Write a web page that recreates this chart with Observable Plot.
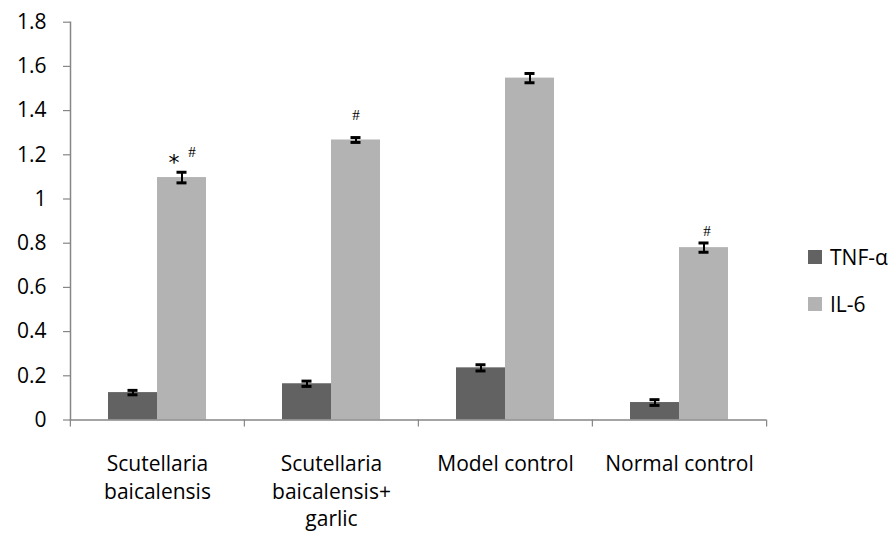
<!DOCTYPE html>
<html>
<head>
<meta charset="utf-8">
<script src="https://cdn.jsdelivr.net/npm/d3@7"></script>
<script src="https://cdn.jsdelivr.net/npm/@observablehq/plot@0.6"></script>
<style>
  body { margin: 0; background: #fff; }
  #wrap { position: relative; width: 896px; height: 538px; font-family: "Open Sans", Lato, sans-serif; }
  #legend { position: absolute; left: 808px; top: 242px; font-size: 21px; color: #000; }
  #legend .item { display: flex; align-items: center; height: 30px; margin-bottom: 17px; }
  #legend .sw { width: 14px; height: 14px; margin-right: 8px; }
</style>
</head>
<body>
<div id="wrap"><div id="legend"></div></div>
<script>
const groups = ["Scutellaria baicalensis", "Scutellaria baicalensis+ garlic", "Model control", "Normal control"];
const groupLabels = ["Scutellaria\nbaicalensis", "Scutellaria\nbaicalensis+\ngarlic", "Model control", "Normal control"];
const series = ["TNF-α", "IL-6"];
const seriesColors = ["#626262", "#b3b3b3"];
const tnf = [0.124, 0.164, 0.236, 0.079];
const tnfErr = [0.010, 0.012, 0.014, 0.013];
const il6 = [1.097, 1.267, 1.547, 0.780];
const il6Err = [0.024, 0.011, 0.021, 0.021];
const yTicks = [0, 0.2, 0.4, 0.6, 0.8, 1, 1.2, 1.4, 1.6, 1.8];
// significance marks on IL-6 bars
const starGroups = ["Scutellaria baicalensis"];
const hashGroupsA = ["Scutellaria baicalensis"];
const hashGroupsB = ["Scutellaria baicalensis+ garlic"];
const hashGroupsC = ["Normal control"];

const rows = [];
groups.forEach((g, i) => {
  rows.push({group: g, series: series[0], value: tnf[i], err: tnfErr[i]});
  rows.push({group: g, series: series[1], value: il6[i], err: il6Err[i]});
});
const labelRows = groups.map((g, i) => ({group: g, label: groupLabels[i]}));
const il6Rows = rows.filter(d => d.series === series[1]);
const pick = gs => il6Rows.filter(d => gs.includes(d.group));

const axisGray = "#868686";
const font = "'Open Sans', Lato, sans-serif";
const hashFont = "'Liberation Serif', serif";
const chart = Plot.plot({
  width: 896,
  height: 538,
  marginLeft: 69,
  marginRight: 130,
  marginTop: 21.7,
  marginBottom: 118.5,
  style: {fontFamily: font, fontSize: "21px", color: "#000", background: "#fff"},
  fx: {domain: groups, padding: 0, axis: null, label: null},
  x: {domain: series, paddingInner: 0, paddingOuter: 0.7425, axis: null, label: null},
  y: {domain: [0, 1.8], axis: null, label: null},
  color: {domain: series, range: seriesColors},
  marks: [
    Plot.barY(rows, {fx: "group", x: "series", y: "value", fill: "series"}),
    Plot.ruleX(rows, {fx: "group", x: "series", y1: d => d.value - d.err, y2: d => d.value + d.err, stroke: "#000", strokeWidth: 2}),
    Plot.tickY(rows, {fx: "group", x: "series", y: d => d.value - d.err, stroke: "#000", strokeWidth: 3, insetLeft: 19.5, insetRight: 19.5}),
    Plot.tickY(rows, {fx: "group", x: "series", y: d => d.value + d.err, stroke: "#000", strokeWidth: 3, insetLeft: 19.5, insetRight: 19.5}),
    Plot.ruleY([0], {stroke: axisGray, strokeWidth: 1.5}),
    Plot.frame({anchor: "left", facetAnchor: "left", stroke: axisGray, strokeWidth: 1.5}),
    Plot.axisY({ticks: yTicks, tickFormat: d => String(d), tickSize: 7, tickPadding: 17, label: null, stroke: axisGray, fill: "#000", fontSize: 21, strokeWidth: 1.2}),
    Plot.axisFx({text: null, label: null, tickSize: 7, dx: -87.125, anchor: "bottom", stroke: axisGray, strokeWidth: 1.2}),
    Plot.axisFx({ticks: [groups[groups.length - 1]], text: null, label: null, tickSize: 7, dx: 87.125, anchor: "bottom", stroke: axisGray, strokeWidth: 1.2}),
    Plot.text(labelRows, {fx: "group", text: "label", frameAnchor: "bottom", lineAnchor: "top", dy: 32, lineHeight: 1.3, fontSize: 21, fill: "#000"}),
    Plot.text(pick(starGroups), {fx: "group", x: "series", y: "value", text: () => "*", dy: -15, dx: -8, fontFamily: "'DejaVu Sans', sans-serif", fontSize: 22, fill: "#000"}),
    Plot.text(pick(hashGroupsA), {fx: "group", x: "series", y: "value", text: () => "#", dy: -25, dx: 10, fontFamily: hashFont, fontSize: 15, fill: "#000"}),
    Plot.text(pick(hashGroupsB), {fx: "group", x: "series", y: "value", text: () => "#", dy: -25, dx: 0, fontFamily: hashFont, fontSize: 15, fill: "#000"}),
    Plot.text(pick(hashGroupsC), {fx: "group", x: "series", y: "value", text: () => "#", dy: -16, dx: 3, fontFamily: hashFont, fontSize: 15, fill: "#000"})
  ]
});
document.getElementById("wrap").prepend(chart);

const legend = document.getElementById("legend");
series.forEach((s, i) => {
  const item = document.createElement("div");
  item.className = "item";
  const sw = document.createElement("div");
  sw.className = "sw";
  sw.style.background = seriesColors[i];
  const t = document.createElement("span");
  t.textContent = s;
  item.append(sw, t);
  legend.append(item);
});
</script>
</body>
</html>
